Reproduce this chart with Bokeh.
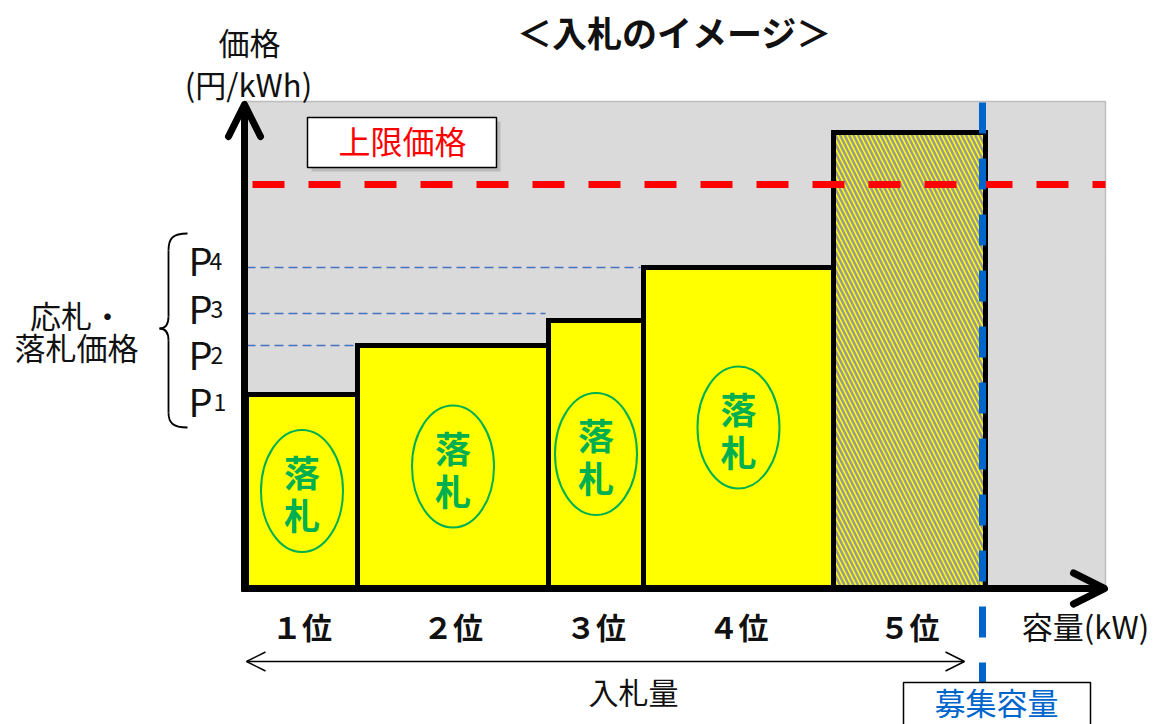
from bokeh.plotting import figure
from bokeh.models import Range1d, Label, Arrow, OpenHead, ColumnDataSource
from bokeh.core.properties import value
from bokeh.embed import file_html
from bokeh.resources import INLINE
import numpy as np

# ---------------- data (schematic units) ----------------
ranks = ["１位", "２位", "３位", "４位", "５位"]
capacity = [111, 191, 95, 190, 152]        # 容量 (kW)
price = [193, 242, 267, 320, 455]          # 応札価格 (円/kWh)
awarded = [True, True, True, True, False]  # 落札
p_names = ["1", "2", "3", "4"]
p_levels = [193, 242, 274, 320]            # P1..P4
cap_price = 403                            # 上限価格
recruit_capacity = 736                     # 募集容量

# ---------------- page geometry ----------------
W, H = 1159, 724
X0, Y0 = 246, 587          # page pixel of data origin


def px(X):
    return X - X0


def py(Y):
    return Y0 - Y


JP = "Noto Sans CJK JP"

p = figure(width=W, height=H,
           x_range=Range1d(-X0, W - X0),
           y_range=Range1d(Y0 - H, Y0),
           output_backend="svg", toolbar_location=None,
           x_axis_type=None, y_axis_type=None, min_border=0)
p.grid.visible = False
p.outline_line_color = None
p.background_fill_color = "white"
p.border_fill_color = "white"

# plotting area background
p.quad(left=px(245), right=px(1105), bottom=0, top=py(101),
       fill_color="#dadada", line_color="#bdbdbd", line_width=1.5)

# bars
cap = np.array(capacity, dtype=float)
right = np.cumsum(cap)
left = right - cap
centers = left + cap / 2
src = ColumnDataSource(dict(left=left, right=right, top=price,
                            bottom=[0] * len(price), cx=centers,
                            cy=np.array(price) / 2, rank=ranks))
aw = [i for i, a in enumerate(awarded) if a]
na = [i for i, a in enumerate(awarded) if not a]

p.quad(left=left[aw], right=right[aw], bottom=0, top=np.array(price)[aw],
       fill_color="#ffff00", line_color="black", line_width=5,
       line_join="miter")
p.quad(left=left[na], right=right[na], bottom=0, top=np.array(price)[na],
       fill_color="#ffff00", hatch_pattern="left_diagonal_line",
       hatch_color="#999999", hatch_scale=9, hatch_weight=2.5,
       line_color="black", line_width=5, line_join="miter")

# P level guide lines (to each bar's left edge)
for lv, i in zip(p_levels[1:], range(1, 4)):
    p.line([px(246), left[i] - 3], [lv, lv], line_color="#4472c4",
           line_width=1.6, line_dash="9 5")

# price cap line
p.line([px(252), px(1105)], [cap_price, cap_price], line_color="#ff0000",
       line_width=7, line_dash="32 24")

# recruitment capacity line
p.line([recruit_capacity, recruit_capacity], [py(102), py(730)],
       line_color="#0066cc", line_width=7, line_dash="31 25")

# 落札 ellipses
p.ellipse(x=centers[aw], y=np.array(price)[aw] / 2, width=82, height=122,
          fill_color=None, line_color="#00b050", line_width=2)
p.text(x=centers[aw], y=np.array(price)[aw] / 2 + 20, text=["落"] * len(aw),
       text_font=value(JP), text_font_size="36px", text_color="#00b050",
       text_font_style="bold",
       text_align="center", text_baseline="middle")
p.text(x=centers[aw], y=np.array(price)[aw] / 2 - 23, text=["札"] * len(aw),
       text_font=value(JP), text_font_size="36px", text_color="#00b050",
       text_font_style="bold",
       text_align="center", text_baseline="middle")

# rank labels
p.text(x="cx", y=py(625), text="rank", source=src, text_font=value(JP),
       text_font_size="30px", text_font_style="bold", text_color="#111111",
       text_align="center", text_baseline="middle")

# axes arrows
p.add_layout(Arrow(end=OpenHead(size=32, line_width=7, line_cap="round",
                                line_join="round"),
                   x_start=px(244), y_start=py(591), x_end=px(244), y_end=py(104),
                   line_width=7))
p.add_layout(Arrow(end=OpenHead(size=31, line_width=7, line_cap="round",
                                line_join="round"),
                   x_start=px(241), y_start=py(588), x_end=px(1104), y_end=py(588),
                   line_width=7))

# 入札量 double arrow
p.add_layout(Arrow(start=OpenHead(size=19, line_width=1.5),
                   end=OpenHead(size=19, line_width=1.5),
                   x_start=px(246), y_start=py(661), x_end=px(964), y_end=py(661),
                   line_width=1.5))

# brace
bz = [((187, 233), (172, 233), (168, 238), (168, 250)),
      ((168, 316), (168, 324), (165, 328), (159, 328)),
      ((159, 328), (165, 328), (168, 332), (168, 340)),
      ((168, 412), (168, 422), (172, 427), (187, 427))]
p.bezier(x0=[px(b[0][0]) for b in bz], y0=[py(b[0][1]) for b in bz],
         cx0=[px(b[1][0]) for b in bz], cy0=[py(b[1][1]) for b in bz],
         cx1=[px(b[2][0]) for b in bz], cy1=[py(b[2][1]) for b in bz],
         x1=[px(b[3][0]) for b in bz], y1=[py(b[3][1]) for b in bz],
         line_color="black", line_width=1.8)
p.segment(x0=[px(168), px(168)], y0=[py(250), py(340)],
          x1=[px(168), px(168)], y1=[py(316), py(412)],
          line_color="black", line_width=1.8)

# P labels
p_mid = [400, 353, 307, 259]
p_sub_x = [213, 210, 210, 209]
for nm, m, sx in zip(p_names, p_mid, p_sub_x):
    p.add_layout(Label(x=px(188), y=py(m), text="P", text_font=JP,
                       text_font_size="38px", text_baseline="middle",
                       text_color="#111111"))
    p.add_layout(Label(x=px(sx), y=py(m + 2), text=nm, text_font=JP,
                       text_font_size="23px", text_baseline="middle",
                       text_color="#111111"))

# boxes
p.quad(left=px(311), right=px(500), bottom=py(171), top=py(121),
       fill_color="#7f7f7f", fill_alpha=0.35, line_color=None)
p.quad(left=px(307), right=px(496), bottom=py(167), top=py(117),
       fill_color="white", line_color="black", line_width=1.5)
p.quad(left=px(903), right=px(1090), bottom=py(740), top=py(682),
       fill_color="white", line_color="black", line_width=1.5)


def lab(X, Y, t, size, color="#111111", style="normal", align="center"):
    p.add_layout(Label(x=px(X), y=py(Y), text=t, text_font=JP,
                       text_font_size=size, text_font_style=style,
                       text_color=color, text_align=align,
                       text_baseline="middle"))


lab(674, 31, "＜入札のイメージ＞", "35px", style="bold")
lab(249, 41, "価格", "31px")
lab(248, 83, "(円/kWh)", "31px")
lab(402, 139, "上限価格", "32px", color="#ff0000")
lab(76, 314, "応札・", "31px")
lab(76, 346, "落札価格", "31px")
lab(1085, 625, "容量(kW)", "31px")
lab(633, 690, "入札量", "30px")
lab(996, 701, "募集容量", "31px", color="#0066cc")

open("out.html", "w").write(file_html(p, INLINE))
